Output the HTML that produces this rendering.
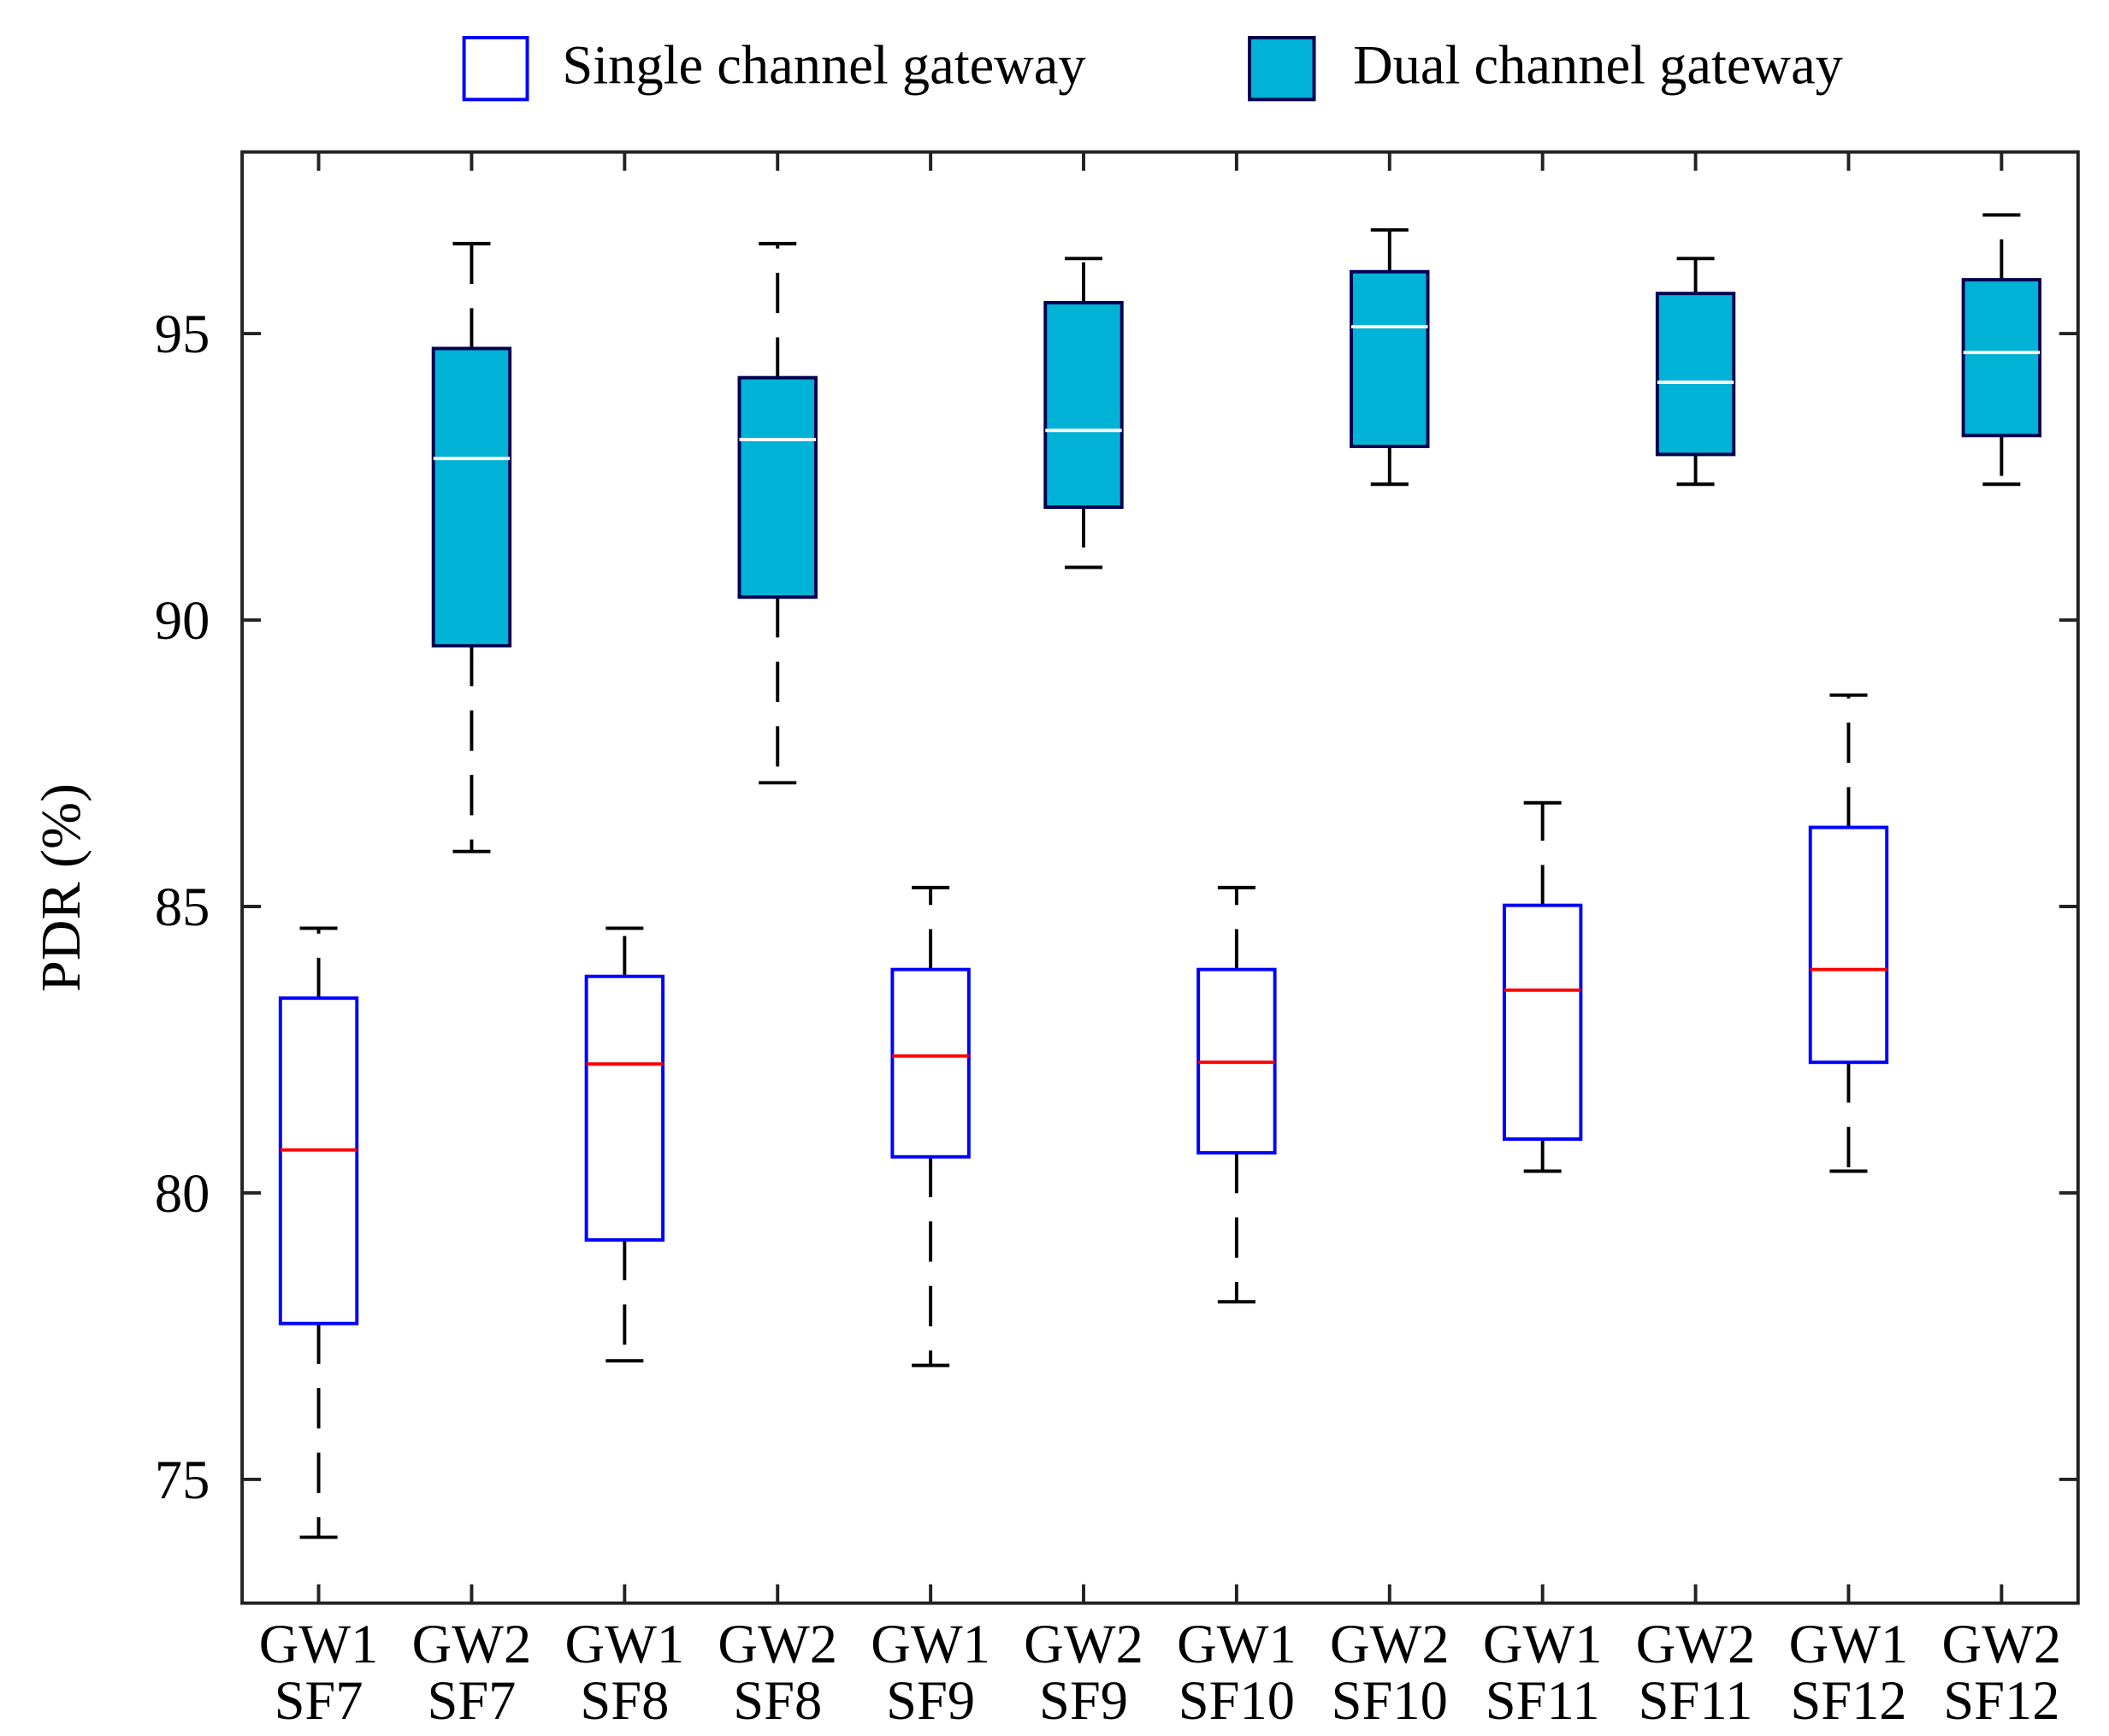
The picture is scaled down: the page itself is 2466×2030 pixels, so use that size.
<!DOCTYPE html>
<html><head><meta charset="utf-8"><style>html,body{margin:0;padding:0;background:#fff}svg{display:block}text{font-family:"Liberation Serif",serif;fill:#000}</style></head>
<body>
<svg id="chart" width="2466" height="2030" viewBox="0 0 1568 1290.8" xmlns="http://www.w3.org/2000/svg">
<g>
<rect x="345" y="28" width="47" height="46" fill="#fff" stroke="#0000ff" stroke-width="2.5"/>
<text x="418" y="62" font-size="41">Single channel gateway</text>
<rect x="929" y="28" width="48" height="46" fill="#00b2d6" stroke="#000050" stroke-width="2.5"/>
<text x="1006" y="62" font-size="41">Dual channel gateway</text>
</g>
<rect x="180" y="113" width="1365" height="1079" fill="none" stroke="#222" stroke-width="2.5"/>
<text transform="translate(59,660) rotate(-90)" text-anchor="middle" font-size="42">PDR (%)</text>
<g id="marks"></g>
</svg>
<script>
const categories = ["GW1|SF7","GW2|SF7","GW1|SF8","GW2|SF8","GW1|SF9","GW2|SF9","GW1|SF10","GW2|SF10","GW1|SF11","GW2|SF11","GW1|SF12","GW2|SF12"];
const whiskerHigh = [84.62,96.57,84.62,96.57,85.33,96.31,85.33,96.81,86.81,96.31,88.69,97.07];
const q3 = [83.40,94.74,83.78,94.23,83.90,95.54,83.90,96.08,85.02,95.70,86.38,95.94];
const medians = [80.75,92.82,82.25,93.15,82.39,93.31,82.28,95.12,83.54,94.15,83.90,94.67];
const q1 = [77.72,89.55,79.18,90.40,80.63,91.97,80.70,93.03,80.94,92.89,82.28,93.22];
const whiskerLow = [73.99,85.96,77.07,87.16,76.99,90.92,78.10,92.37,80.38,92.37,80.38,92.37];
const yTicks = [75,80,85,90,95];

const NS="http://www.w3.org/2000/svg";
const g=document.getElementById('marks');
const X0=180,X1=1545,Y0=113,Y1=1192,YMIN=72.84,YMAX=98.17;
const xs=i=>X0+(i+0.5)*(X1-X0)/categories.length;
const ys=v=>Y1-(v-YMIN)/(YMAX-YMIN)*(Y1-Y0);
const bw=0.5*(X1-X0)/categories.length;
const SW=2.5;
function mk(t,a){const e=document.createElementNS(NS,t);for(const k in a)e.setAttribute(k,a[k]);g.appendChild(e);return e;}
yTicks.forEach(v=>{
 const y=ys(v);
 let e=mk('line',{x1:X0,x2:X0+14,y1:y,y2:y,stroke:'#222','stroke-width':SW});
 
 
 e=mk('line',{x1:X1-14,x2:X1,y1:y,y2:y,stroke:'#222','stroke-width':SW});
 
 
 e=mk('text',{x:156,y:y+14,'text-anchor':'end','font-size':41});
 e.textContent=v;
 
 
});
categories.forEach((c,i)=>{
 const x=xs(i),dual=i%2===1;
 let e=mk('line',{x1:x,x2:x,y1:Y1,y2:Y1-14,stroke:'#222','stroke-width':SW});
 
 
 e=mk('line',{x1:x,x2:x,y1:Y0,y2:Y0+14,stroke:'#222','stroke-width':SW});
 
 
 const parts=c.split('|');
 e=mk('text',{x:x,y:1236,'text-anchor':'middle','font-size':41});
 e.textContent=parts[0];
 
 
 e=mk('text',{x:x,y:1278,'text-anchor':'middle','font-size':41});
 e.textContent=parts[1];
 
 
 e=mk('line',{x1:x,x2:x,y1:ys(q3[i]),y2:ys(whiskerHigh[i]),stroke:'#000','stroke-width':SW,'stroke-dasharray':'30 18'});
 
 
 e=mk('line',{x1:x,x2:x,y1:ys(q1[i]),y2:ys(whiskerLow[i]),stroke:'#000','stroke-width':SW,'stroke-dasharray':'30 18'});
 
 
 e=mk('line',{x1:x-14,x2:x+14,y1:ys(whiskerHigh[i]),y2:ys(whiskerHigh[i]),stroke:'#000','stroke-width':SW});
 
 
 e=mk('line',{x1:x-14,x2:x+14,y1:ys(whiskerLow[i]),y2:ys(whiskerLow[i]),stroke:'#000','stroke-width':SW});
 
 
 e=mk('rect',{x:x-bw/2,y:ys(q3[i]),width:bw,height:ys(q1[i])-ys(q3[i]),fill:dual?'#00b2d6':'#fff',stroke:dual?'#000050':'#0000ff','stroke-width':SW});
 
 
 e=mk('line',{x1:x-bw/2,x2:x+bw/2,y1:ys(medians[i]),y2:ys(medians[i]),stroke:dual?'#fff':'#ff0000','stroke-width':SW});
 
 
});
</script>
</body></html>
